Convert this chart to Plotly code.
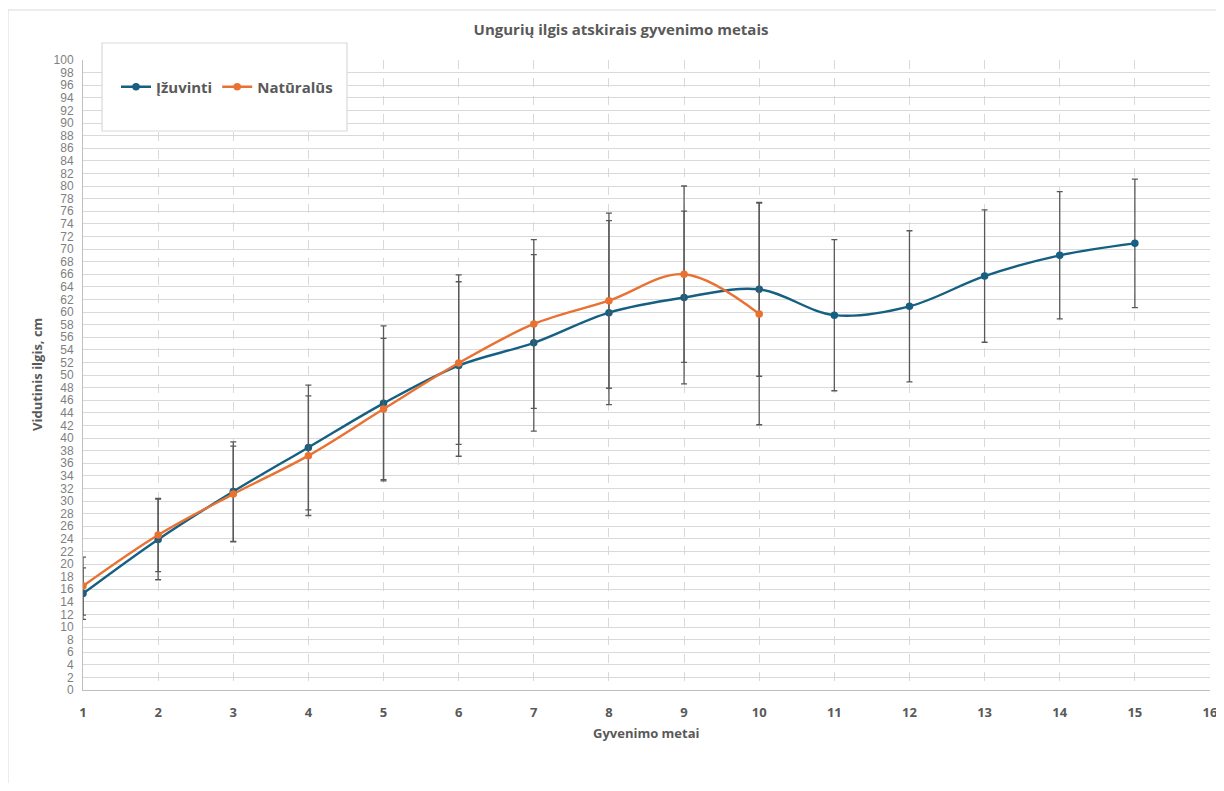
import plotly.graph_objects as go

# ---- data ----
years = list(range(1, 16))
izuvinti = [15.3, 23.9, 31.5, 38.5, 45.5, 51.5, 55.1, 59.9, 62.3, 63.6, 59.5, 60.9, 65.7, 69.0, 70.9]
izuvinti_sd = [4.1, 6.4, 7.9, 9.9, 12.3, 14.4, 14.0, 14.6, 13.7, 13.8, 12.0, 12.0, 10.5, 10.1, 10.2]
years_nat = list(range(1, 11))
naturalus = [16.5, 24.6, 31.1, 37.2, 44.6, 51.9, 58.1, 61.8, 66.0, 59.7]
naturalus_sd = [4.6, 5.8, 7.6, 9.5, 11.2, 12.9, 13.4, 13.9, 14.0, 17.6]

title_text = "Ungurių ilgis atskirais gyvenimo metais"
x_title = "Gyvenimo metai"
y_title = "Vidutinis ilgis, cm"

BLUE = "#156082"
ORANGE = "#E97132"
GRID = "#d9d9d9"
TXT = "#595959"
FONT = "'Open Sans', Lato, sans-serif"

OFF = 8  # page body margin
W, H = 1224 - OFF, 791 - 2 * OFF
L, R, T, B = 83 - OFF, 1210 - OFF, 60 - OFF, 690 - OFF  # plot area px in figure coords


def px_x(px):
    # px given in screenshot coordinates
    return (px - OFF - L) / (R - L)


def px_y(py):
    return (B - (py - OFF)) / (B - T)


fig = go.Figure()

fig.add_trace(go.Scatter(
    x=years, y=izuvinti, name="Įžuvinti", mode="lines+markers",
    line=dict(color=BLUE, width=2.4, shape="spline", smoothing=1),
    marker=dict(color=BLUE, size=7.5),
    error_y=dict(type="data", array=izuvinti_sd, visible=True,
                 color="#595959", thickness=1.3, width=3),
))
fig.add_trace(go.Scatter(
    x=years_nat, y=naturalus, name="Natūralūs", mode="lines+markers",
    line=dict(color=ORANGE, width=2.4, shape="spline", smoothing=1),
    marker=dict(color=ORANGE, size=7.5),
    error_y=dict(type="data", array=naturalus_sd, visible=True,
                 color="#595959", thickness=1.3, width=3),
))

shapes = [
    # chart area border
    dict(type="rect", xref="paper", yref="paper",
         x0=px_x(8), x1=px_x(1260), y0=px_y(830), y1=px_y(10),
         line=dict(color=GRID, width=1), fillcolor="rgba(0,0,0,0)", layer="below"),
    # legend box
    dict(type="rect", xref="paper", yref="paper",
         x0=px_x(102), x1=px_x(347), y0=px_y(131), y1=px_y(43),
         line=dict(color=GRID, width=1.2), fillcolor="white", layer="above"),
]

annotations = [
    dict(text=x_title, xref="paper", yref="paper", x=px_x(646), y=px_y(733),
         showarrow=False, font=dict(family=FONT, size=13, color=TXT, weight="bold"),
         xanchor="center", yanchor="middle"),
    dict(text=y_title, xref="paper", yref="paper", x=px_x(37), y=px_y(375),
         showarrow=False, textangle=-90,
         font=dict(family=FONT, size=13, color=TXT, weight="bold"),
         xanchor="center", yanchor="middle"),
]

fig.update_layout(
    width=W, height=H,
    margin=dict(l=L, r=W - R, t=T, b=H - B, pad=0, autoexpand=False),
    paper_bgcolor="white", plot_bgcolor="white",
    title=dict(text=title_text, x=(621 - OFF) / W, y=1 - (30 - OFF) / H,
               xref="container", yref="container",
               xanchor="center", yanchor="middle",
               font=dict(family=FONT, size=15, color=TXT, weight="bold")),
    showlegend=True,
    legend=dict(orientation="h", x=px_x(116), y=px_y(87), xanchor="left", yanchor="middle",
                bgcolor="rgba(0,0,0,0)", borderwidth=0,
                font=dict(family=FONT, size=15, color=TXT, weight="bold"),
                itemwidth=30, traceorder="normal"),
    shapes=shapes,
    annotations=annotations,
    xaxis=dict(range=[1, 16], dtick=1, tick0=1, showgrid=True, gridcolor=GRID, griddash="dash",
               gridwidth=1, showline=True, linecolor="#bfbfbf", linewidth=1.3, zeroline=False,
               ticks="", ticklabelstandoff=10, ticklabeloverflow="allow", automargin=False,
               tickfont=dict(family=FONT, size=13, color=TXT, weight="bold")),
    yaxis=dict(range=[0, 100], dtick=2, tick0=0, showgrid=True, gridcolor=GRID, gridwidth=1.3,
               showline=True, linecolor="#bfbfbf", linewidth=1, zeroline=False, ticks="",
               ticklabelstandoff=6, automargin=False,
               tickfont=dict(family="'Liberation Sans Narrow', 'Arial Narrow', sans-serif",
                             size=12, color="#7f7f7f")),
)

fig.write_html("out.html")
